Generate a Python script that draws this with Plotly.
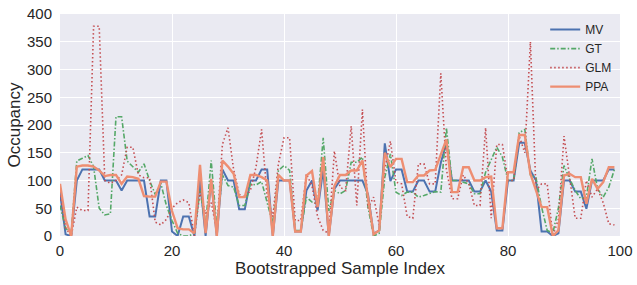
import plotly.graph_objects as go

idx = list(range(100))

mv = [79, 3, 0, 100, 120, 120, 120, 120, 100, 100,
      100, 82, 100, 100, 100, 100, 35, 35, 100, 100,
      8, 0, 35, 35, 0, 100, 0, 100, 0, 120,
      100, 100, 48, 48, 100, 100, 120, 120, 0, 100,
      100, 100, 8, 8, 82, 100, 46, 120, 0, 85,
      100, 100, 100, 100, 100, 75, 4, 10, 167, 99,
      120, 120, 80, 80, 100, 100, 80, 80, 132, 167,
      100, 100, 100, 100, 80, 80, 100, 80, 10, 10,
      100, 100, 168, 168, 118, 100, 8, 8, 0, 5,
      100, 100, 80, 80, 49, 100, 100, 100, 120, 120]

gt = [55, 14, 5, 135, 140, 145, 125, 50, 38, 40,
      215, 215, 135, 125, 115, 130, 100, 75, 95, 55,
      28, 5, 0, 0, 5, 82, 20, 136, 15, 110,
      91, 88, 55, 55, 94, 92, 98, 60, 22, 118,
      127, 118, 10, 10, 70, 61, 58, 177, 45, 82,
      76, 82, 133, 133, 142, 52, 0, 5, 106, 148,
      79, 73, 79, 79, 70, 73, 76, 80, 79, 195,
      100, 100, 97, 94, 76, 76, 115, 136, 160, 142,
      100, 100, 186, 192, 110, 105, 52, 10, 5, 50,
      127, 103, 82, 67, 70, 139, 85, 70, 88, 120]

glm = [80, 15, 0, 52, 46, 46, 378, 378, 100, 95,
       100, 110, 160, 160, 110, 105, 105, 25, 20, 30,
       50, 60, 65, 60, 0, 80, 40, 60, 10, 165,
       195, 120, 75, 70, 82, 124, 192, 70, 35, 130,
       177, 177, 28, 28, 112, 90, 35, 10, 5, 153,
       88, 82, 198, 55, 228, 50, 70, 20, 120, 171,
       97, 94, 35, 32, 130, 130, 94, 94, 293, 120,
       67, 67, 110, 94, 55, 55, 195, 32, 165, 165,
       100, 100, 180, 150, 350, 82, 94, 94, 0, 30,
       180, 110, 32, 32, 100, 70, 85, 60, 22, 20]

ppa = [94, 30, 0, 125, 127, 127, 125, 118, 108, 110,
       110, 94, 107, 106, 103, 72, 71, 71, 98, 98,
       45, 14, 12, 12, 5, 128, 5, 103, 0, 136,
       125, 112, 70, 70, 110, 110, 106, 100, 0, 110,
       100, 100, 8, 8, 109, 117, 52, 142, 0, 90,
       110, 110, 118, 118, 136, 70, 3, 10, 150, 124,
       139, 139, 97, 97, 109, 109, 118, 119, 146, 174,
       79, 79, 124, 124, 100, 100, 106, 107, 14, 14,
       115, 115, 182, 182, 112, 82, 52, 52, 0, 10,
       109, 112, 106, 106, 58, 103, 85, 97, 124, 124]

x_ticks = [0, 20, 40, 60, 80, 100]
y_ticks = [0, 50, 100, 150, 200, 250, 300, 350, 400]

fig = go.Figure()
fig.add_trace(go.Scatter(x=idx, y=mv, mode="lines", name="MV",
                         line=dict(color="#4C72B0", width=2)))
fig.add_trace(go.Scatter(x=idx, y=gt, mode="lines", name="GT",
                         line=dict(color="#55A868", width=1.6, dash="5px,2px,1.5px,2px")))
fig.add_trace(go.Scatter(x=idx, y=glm, mode="lines", name="GLM",
                         line=dict(color="#C44E52", width=1.6, dash="1.5px,2.5px")))
fig.add_trace(go.Scatter(x=idx, y=ppa, mode="lines", name="PPA",
                         line=dict(color="#EE8E72", width=2.4)))

fig.update_layout(
    width=637, height=285,
    margin=dict(l=60, r=17, t=14, b=49, autoexpand=False),
    paper_bgcolor="white",
    plot_bgcolor="#EAEAF2",
    font=dict(family="Liberation Sans, Arial, sans-serif", color="#262626", size=15),
    legend=dict(x=0.995, y=0.995, xanchor="right", yanchor="top",
                bgcolor="rgba(0,0,0,0)", font=dict(size=12),
                itemwidth=30, tracegroupgap=0),
    showlegend=True,
)
fig.update_xaxes(range=[0, 100], tickvals=x_ticks, ticktext=[str(v) for v in x_ticks],
                 showgrid=True, gridcolor="white", gridwidth=1.2, zeroline=False,
                 showline=False, ticks="outside", ticklen=1, tickcolor="rgba(0,0,0,0)",
                 automargin=False,
                 title=dict(text="Bootstrapped Sample Index", font=dict(size=17), standoff=4))
fig.update_yaxes(range=[0, 400], tickvals=y_ticks, ticktext=[str(v) for v in y_ticks],
                 showgrid=True, gridcolor="white", gridwidth=1.2, zeroline=False,
                 showline=False, ticks="outside", ticklen=4, tickcolor="rgba(0,0,0,0)",
                 automargin=False,
                 title=dict(text="Occupancy", font=dict(size=17), standoff=2))

fig.write_html("out.html", config={"displayModeBar": False},
               post_script="document.body.style.margin='0';")
